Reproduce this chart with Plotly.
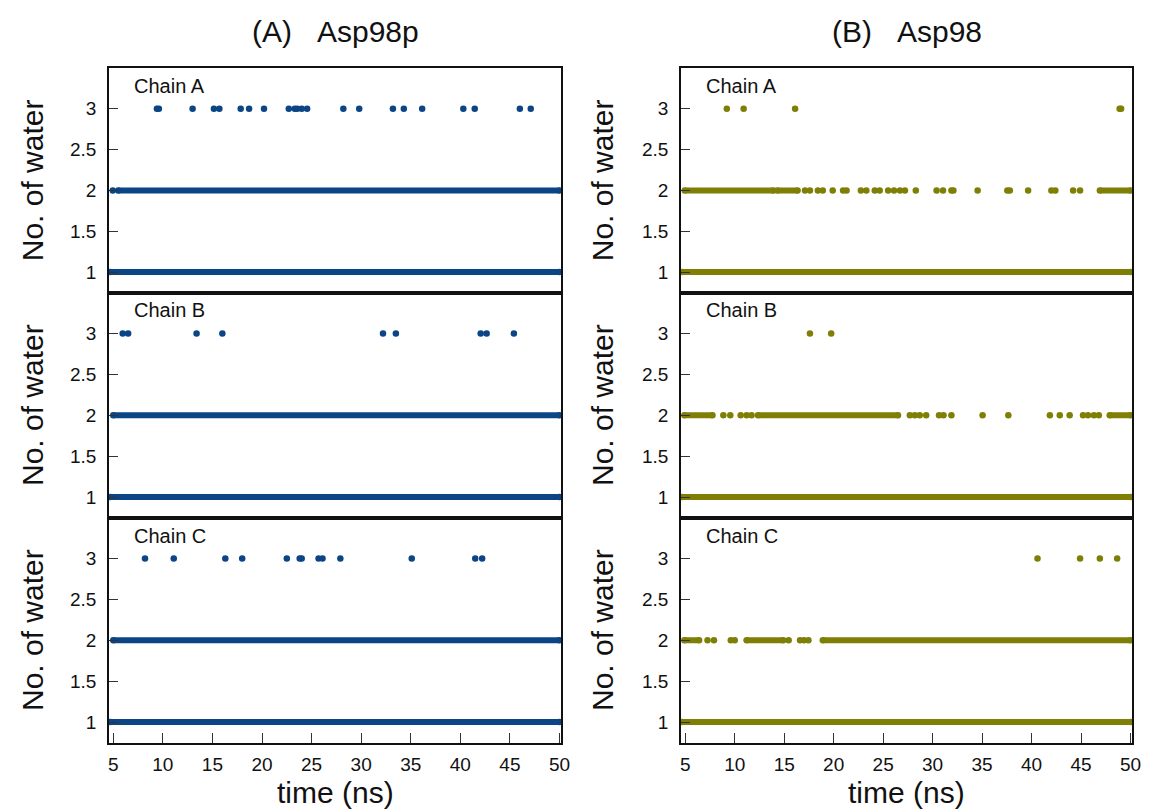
import plotly.graph_objects as go

# ---------------- data ----------------
x_tick_vals = [5, 10, 15, 20, 25, 30, 35, 40, 45, 50]
x_tick_text = ["5", "10", "15", "20", "25", "30", "35", "40", "45", "50"]
y_tick_vals = [1, 1.5, 2, 2.5, 3]
y_tick_text = ["1", "1.5", "2", "2.5", "3"]

column_titles = ["(A)\u00a0\u00a0\u00a0Asp98p", "(B)\u00a0\u00a0\u00a0Asp98"]
chain_names = ["Chain A", "Chain B", "Chain C"]
x_title = "time (ns)"
y_title = "No. of water"

# (A) Asp98p : runs = continuous stretches of frames, pts = isolated frames
asp98p_A_y1_runs = [[4.7, 50.0]]
asp98p_A_y2_runs = [[5.5, 50.0]]
asp98p_A_y2_pts = [4.95]
asp98p_A_y3_pts = [9.4, 9.6, 13.0, 15.15, 15.7, 17.85, 18.7, 20.2, 22.7, 23.3, 23.55,
                   24.0, 24.55, 28.2, 29.8, 33.2, 34.3, 36.15, 40.3, 41.45, 46.0, 47.1]

asp98p_B_y1_runs = [[4.7, 50.0]]
asp98p_B_y2_runs = [[5.0, 50.0]]
asp98p_B_y2_pts = []
asp98p_B_y3_pts = [5.95, 6.5, 13.4, 16.0, 32.2, 33.5, 42.05, 42.65, 45.4]

asp98p_C_y1_runs = [[4.7, 50.0]]
asp98p_C_y2_runs = [[5.0, 50.0]]
asp98p_C_y2_pts = []
asp98p_C_y3_pts = [8.2, 11.1, 16.3, 18.0, 22.5, 23.8, 24.0, 25.7, 26.1, 27.9, 35.1, 41.5, 42.2]

# (B) Asp98
asp98_A_y1_runs = [[4.7, 50.0]]
asp98_A_y2_runs = [[4.95, 13.9], [14.3, 16.35], [46.9, 50.0]]
asp98_A_y2_pts = [17.1, 17.6, 18.4, 18.9, 19.9, 20.95, 21.3, 22.75, 23.3, 24.15, 24.65,
                  25.5, 26.1, 26.7, 27.2, 28.3, 30.4, 31.05, 31.9, 32.1, 34.55, 37.55,
                  37.8, 39.65, 42.0, 42.4, 44.2, 44.9]
asp98_A_y3_pts = [9.2, 10.9, 16.1, 48.9, 49.05]

asp98_B_y1_runs = [[4.7, 50.0]]
asp98_B_y2_runs = [[4.9, 7.75], [12.35, 26.5], [47.9, 50.0]]
asp98_B_y2_pts = [8.85, 9.55, 10.6, 11.2, 11.7, 27.7, 28.2, 28.7, 29.35, 30.65, 31.1,
                  31.9, 35.05, 37.65, 41.85, 42.85, 43.85, 45.2, 45.7, 46.3, 46.8]
asp98_B_y3_pts = [17.6, 19.75]

asp98_C_y1_runs = [[4.7, 50.0]]
asp98_C_y2_runs = [[4.9, 6.4], [11.2, 14.9], [18.9, 50.0]]
asp98_C_y2_pts = [7.25, 7.9, 9.6, 10.0, 15.45, 16.6, 17.0, 17.45]
asp98_C_y3_pts = [40.6, 44.9, 46.9, 48.65]

# ---------------- styling ----------------
BLUE = "#0b4586"
OLIVE = "#7f7f05"
FONT = "Liberation Sans, Arial, Helvetica, sans-serif"
W, H = 1149, 809

col_dom = [[109 / W, 561 / W], [681 / W, 1132 / W]]
row_px = [(68, 292.5), (292.5, 517.5), (517.5, 742.5)]
row_dom = [[1 - b / H, 1 - t / H] for (t, b) in row_px]

panels = [
    (0, 0, BLUE, asp98p_A_y1_runs, asp98p_A_y2_runs, asp98p_A_y2_pts, asp98p_A_y3_pts),
    (0, 1, BLUE, asp98p_B_y1_runs, asp98p_B_y2_runs, asp98p_B_y2_pts, asp98p_B_y3_pts),
    (0, 2, BLUE, asp98p_C_y1_runs, asp98p_C_y2_runs, asp98p_C_y2_pts, asp98p_C_y3_pts),
    (1, 0, OLIVE, asp98_A_y1_runs, asp98_A_y2_runs, asp98_A_y2_pts, asp98_A_y3_pts),
    (1, 1, OLIVE, asp98_B_y1_runs, asp98_B_y2_runs, asp98_B_y2_pts, asp98_B_y3_pts),
    (1, 2, OLIVE, asp98_C_y1_runs, asp98_C_y2_runs, asp98_C_y2_pts, asp98_C_y3_pts),
]

fig = go.Figure()
annotations = []
layout_axes = {}
MS = 6.5
LW = 6

def runs_xy(runs, level):
    xs, ys = [], []
    for s, e in runs:
        xs += [s, e, None]
        ys += [level, level, None]
    return xs, ys

for k, (col, row, color, r1, r2, p2, p3) in enumerate(panels):
    idx = k + 1
    xref = "x" if idx == 1 else f"x{idx}"
    yref = "y" if idx == 1 else f"y{idx}"
    for runs, level in ((r1, 1), (r2, 2)):
        xs, ys = runs_xy(runs, level)
        fig.add_trace(go.Scatter(x=xs, y=ys, mode="lines+markers", xaxis=xref, yaxis=yref,
                                 line=dict(color=color, width=LW),
                                 marker=dict(color=color, size=MS),
                                 cliponaxis=False, showlegend=False, hoverinfo="skip"))
    if p2:
        fig.add_trace(go.Scatter(x=p2, y=[2] * len(p2), mode="markers", xaxis=xref, yaxis=yref,
                                 marker=dict(color=color, size=MS), cliponaxis=False,
                                 showlegend=False))
    fig.add_trace(go.Scatter(x=p3, y=[3] * len(p3), mode="markers", xaxis=xref, yaxis=yref,
                             marker=dict(color=color, size=MS), cliponaxis=False,
                             showlegend=False))

    bottom = row == 2
    xkey = "xaxis" if idx == 1 else f"xaxis{idx}"
    ykey = "yaxis" if idx == 1 else f"yaxis{idx}"
    layout_axes[xkey] = dict(
        domain=col_dom[col], anchor=yref, range=[4.57, 50.15], automargin=False,
        showline=True, mirror=True, linecolor="#111111", linewidth=1.6,
        showgrid=False, zeroline=False,
        tickvals=x_tick_vals, ticktext=x_tick_text,
        ticks="inside" if bottom else "", ticklen=10, tickwidth=1, tickcolor="#333333",
        showticklabels=bottom, ticklabelstandoff=4,
        tickfont=dict(family=FONT, size=19, color="#111111"),
    )
    layout_axes[ykey] = dict(
        domain=row_dom[row], anchor=xref, range=[0.75, 3.5], automargin=False,
        showline=True, mirror=True, linecolor="#111111", linewidth=1.6,
        showgrid=False, zeroline=False,
        tickvals=y_tick_vals, ticktext=y_tick_text,
        ticks="inside", ticklen=9, tickwidth=1, tickcolor="#333333",
        ticklabelstandoff=7,
        tickfont=dict(family=FONT, size=19, color="#111111"),
    )
    annotations.append(dict(text=chain_names[row], xref=f"{xref} domain", yref=f"{yref} domain",
                            x=0.05, y=0.92, xanchor="left", yanchor="middle", showarrow=False,
                            font=dict(family=FONT, size=20, color="#111111")))
    y_center = 1 - (row_px[row][0] + row_px[row][1]) / 2 / H
    annotations.append(dict(text=y_title, xref="paper", yref="paper",
                            x=(32 if col == 0 else 602) / W, y=y_center, textangle=-90,
                            xanchor="center", yanchor="middle", showarrow=False,
                            font=dict(family=FONT, size=30, color="#111111")))

for col in range(2):
    cx = (col_dom[col][0] + col_dom[col][1]) / 2
    annotations.append(dict(text=column_titles[col], xref="paper", yref="paper", x=cx, y=1 - 31 / H,
                            xanchor="center", yanchor="middle", showarrow=False,
                            font=dict(family=FONT, size=30, color="#111111")))
    annotations.append(dict(text=x_title, xref="paper", yref="paper", x=cx, y=1 - 792 / H,
                            xanchor="center", yanchor="middle", showarrow=False,
                            font=dict(family=FONT, size=30, color="#111111")))

fig.update_layout(width=W, height=H, margin=dict(l=0, r=0, t=0, b=0, autoexpand=False),
                  paper_bgcolor="white", plot_bgcolor="white",
                  showlegend=False, annotations=annotations, **layout_axes)

fig.write_html(
    "out.html",
    post_script="document.documentElement.style.margin='0';document.documentElement.style.overflow='hidden';"
                "document.body.style.margin='0';document.body.style.overflow='hidden';",
)
